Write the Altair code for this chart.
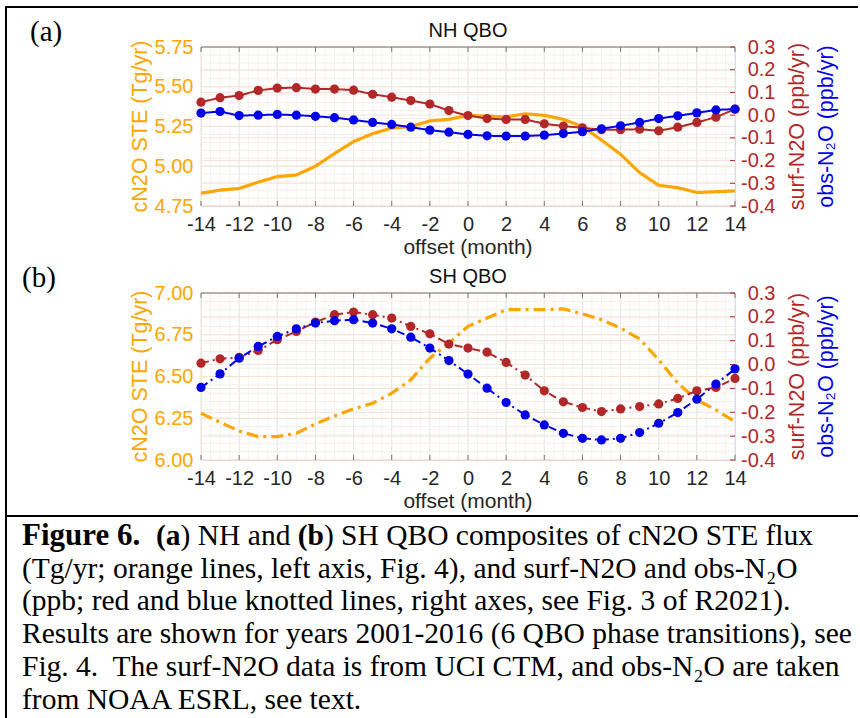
import altair as alt
import pandas as pd

# Composite offsets (months) relative to the QBO phase transition
months = list(range(-14, 15))

# (a) NH QBO composites
nh_cn2o = [4.83, 4.85, 4.86, 4.90, 4.935, 4.945, 5.00, 5.08, 5.155, 5.205, 5.24, 5.25, 5.285, 5.295,
           5.32, 5.315, 5.31, 5.33, 5.32, 5.295, 5.25, 5.165, 5.075, 4.96, 4.88, 4.865, 4.835, 4.84, 4.845]
nh_surf = [0.057, 0.077, 0.086, 0.109, 0.119, 0.121, 0.115, 0.115, 0.110, 0.092, 0.079, 0.064, 0.049, 0.020,
           -0.002, -0.015, -0.019, -0.019, -0.038, -0.048, -0.056, -0.064, -0.064, -0.062, -0.069, -0.053,
           -0.032, -0.009, 0.026]
nh_obs = [0.009, 0.016, -0.002, 0.000, 0.003, 0.000, -0.005, -0.011, -0.021, -0.032, -0.041, -0.053, -0.066,
          -0.075, -0.085, -0.091, -0.092, -0.092, -0.088, -0.081, -0.073, -0.060, -0.047, -0.032, -0.015,
          -0.003, 0.010, 0.023, 0.027]

# (b) SH QBO composites
sh_cn2o = [6.28, 6.226, 6.174, 6.14, 6.14, 6.16, 6.216, 6.264, 6.306, 6.34, 6.40, 6.48, 6.61, 6.70,
           6.80, 6.85, 6.90, 6.90, 6.90, 6.905, 6.875, 6.84, 6.79, 6.725, 6.60, 6.46, 6.36, 6.30, 6.23]
sh_surf = [0.006, 0.024, 0.030, 0.059, 0.104, 0.139, 0.178, 0.209, 0.220, 0.209, 0.195, 0.160, 0.129, 0.086,
           0.069, 0.052, 0.009, -0.044, -0.110, -0.156, -0.180, -0.197, -0.186, -0.176, -0.165, -0.142,
           -0.110, -0.096, -0.058]
sh_obs = [-0.096, -0.039, 0.027, 0.076, 0.118, 0.150, 0.174, 0.184, 0.188, 0.174, 0.150, 0.115, 0.069,
          0.017, -0.040, -0.099, -0.159, -0.211, -0.253, -0.288, -0.309, -0.316, -0.309, -0.285, -0.246,
          -0.201, -0.145, -0.082, -0.018]

# Axis tick values
x_ticks = list(range(-14, 15, 2))
nh_left_ticks = [4.75, 5.0, 5.25, 5.5, 5.75]
sh_left_ticks = [6.0, 6.25, 6.5, 6.75, 7.0]
right_ticks = [-0.4, -0.3, -0.2, -0.1, 0.0, 0.1, 0.2, 0.3]

# Caption: first line mixes bold and regular runs (text, weight, left x)
caption_first = [
    ("Figure 6.", "bold", 22),
    ("(a", "bold", 156),
    (") NH and", "normal", 180.6),
    ("(b", "bold", 297.7),
    (") SH QBO composites of cN2O STE flux", "normal", 323.9),
]
caption_lines = [
    "(Tg/yr; orange lines, left axis, Fig. 4), and surf-N2O and obs-N\u2082O",
    "(ppb; red and blue knotted lines, right axes, see Fig. 3 of R2021).",
    "Results are shown for years 2001-2016 (6 QBO phase transitions), see",
    "Fig. 4.\u00a0 The surf-N2O data is from UCI CTM, and obs-N\u2082O are taken",
    "from NOAA ESRL, see text.",
]

W, H = 860, 718
PX0, PX1 = 201, 735

ORANGE = "#FFA500"
RED = "#B22828"
BLUE = "#0000E6"
GRID_MAJOR = "#e6e6e6"
GRID_MINOR = "#f3f3f3"
TEXT = "#262626"
SANS = "Liberation Sans"
SERIF = "Liberation Serif"

one = pd.DataFrame({"k": [0]})


def xs():
    return alt.Scale(domain=[-14, 14], range=[PX0, PX1], nice=False, zero=False)


def ys(dom, top, bot):
    return alt.Scale(domain=dom, range=[bot, top], nice=False, zero=False)


def hyphen(fmt):
    return "replace(format(datum.value, '%s'), '\u2212', '-')" % fmt


def label(s, x, y, size, color="#000000", font=SANS, weight="normal", angle=0,
          align="center", baseline="middle"):
    kw = dict(text=s, fontSize=size, font=font, fontWeight=weight, color=color,
              align=align, baseline=baseline)
    if angle:
        kw["angle"] = angle
    return alt.Chart(one).mark_text(**kw).encode(x=alt.value(x), y=alt.value(y))


def hline(x0, x1, y, color="#000000", width=2):
    return alt.Chart(one).mark_rule(color=color, strokeWidth=width).encode(
        x=alt.value(x0), x2=alt.value(x1), y=alt.value(y))


def vline(x, y0, y1, color="#000000", width=2):
    return alt.Chart(one).mark_rule(color=color, strokeWidth=width).encode(
        x=alt.value(x), y=alt.value(y0), y2=alt.value(y1))


def panel(cn2o, surf, obs, left_dom, left_ticks, top, bot, title, tag, tag_x, dashed):
    df = pd.DataFrame({"month": months, "cn2o": cn2o, "surf": surf, "obs": obs})
    yl = lambda: ys(left_dom, top, bot)
    yr = lambda: ys([-0.4, 0.3], top, bot)
    mid = (top + bot) / 2
    out = []

    # background grid
    minor_x = pd.DataFrame({"v": [m / 2 for m in range(-28, 29)]})
    major_x = pd.DataFrame({"v": x_ticks})
    lo, hi = left_dom
    minor_l = pd.DataFrame({"v": [lo + i * 0.05 for i in range(21)]})
    major_l = pd.DataFrame({"v": left_ticks})
    major_r = pd.DataFrame({"v": right_ticks})
    for d, c in [(minor_x, GRID_MINOR), (major_x, GRID_MAJOR)]:
        out.append(alt.Chart(d).mark_rule(color=c, strokeWidth=1).encode(
            x=alt.X("v:Q", scale=xs(), axis=None), y=alt.value(top), y2=alt.value(bot)))
    for d, c in [(minor_l, "#f7efe4"), (major_l, "#f5e4cc")]:
        out.append(alt.Chart(d).mark_rule(color=c, strokeWidth=1).encode(
            y=alt.Y("v:Q", scale=yl(), axis=None), x=alt.value(PX0), x2=alt.value(PX1)))
    out.append(alt.Chart(major_r).mark_rule(color="#f3e2e2", strokeWidth=1).encode(
        y=alt.Y("v:Q", scale=yr(), axis=None), x=alt.value(PX0), x2=alt.value(PX1)))

    # frame top edge and inward ticks
    out.append(hline(PX0, PX1, top, color="#777777", width=1))
    out.append(alt.Chart(major_x).mark_rule(color="#777777", strokeWidth=1).encode(
        x=alt.X("v:Q", scale=xs(), axis=None), y=alt.value(bot), y2=alt.value(bot - 5)))
    out.append(alt.Chart(major_x).mark_rule(color="#777777", strokeWidth=1).encode(
        x=alt.X("v:Q", scale=xs(), axis=None), y=alt.value(top), y2=alt.value(top + 5)))
    out.append(alt.Chart(major_r).mark_rule(color=RED, strokeWidth=1).encode(
        y=alt.Y("v:Q", scale=yr(), axis=None), x=alt.value(PX1 - 5), x2=alt.value(PX1)))

    x_axis = alt.Axis(orient="bottom", offset=bot - H, values=x_ticks, title=None, grid=False,
                      ticks=False, domainColor="#808080", domainWidth=1, labelFont=SANS,
                      labelFontSize=20, labelColor=TEXT, labelPadding=8, labelFlush=False,
                      labelExpr=hyphen("d"))
    left_axis = alt.Axis(orient="left", offset=-PX0, values=left_ticks, title=None, grid=False,
                         ticks=False, domainColor="#FFD89A", domainWidth=1, labelFont=SANS,
                         labelFontSize=20, labelColor=ORANGE, labelPadding=8,
                         labelExpr=hyphen(".2f"))
    right_axis = alt.Axis(orient="right", offset=PX1 - W, values=right_ticks, title=None,
                          grid=False, ticks=False, domainColor="#A8A8F5", domainWidth=1,
                          labelFont=SANS, labelFontSize=20, labelColor=RED, labelAlign="right",
                          labelPadding=40, labelExpr=hyphen(".1f"))

    dash = [12, 5, 3, 5] if dashed else [1, 0]
    sdash = [8, 4, 2, 4] if dashed else [1, 0]

    out.append(alt.Chart(df).mark_line(color=ORANGE, strokeWidth=3.2, strokeDash=dash).encode(
        x=alt.X("month:Q", scale=xs(), axis=x_axis),
        y=alt.Y("cn2o:Q", scale=yl(), axis=left_axis)))
    out.append(alt.Chart(df).mark_line(
        color=RED, strokeWidth=2, strokeDash=sdash,
        point=alt.OverlayMarkDef(filled=True, size=85, color=RED, opacity=1)).encode(
        x=alt.X("month:Q", scale=xs(), axis=None),
        y=alt.Y("surf:Q", scale=yr(), axis=right_axis)))
    out.append(alt.Chart(df).mark_line(
        color=BLUE, strokeWidth=2, strokeDash=sdash,
        point=alt.OverlayMarkDef(filled=True, size=85, color=BLUE, opacity=1)).encode(
        x=alt.X("month:Q", scale=xs(), axis=None),
        y=alt.Y("obs:Q", scale=yr(), axis=None)))

    # titles
    out.append(label(title, 468, top - 16, 20, color="#111111"))
    out.append(label("offset (month)", 468, bot + 42, 21, color=TEXT))
    out.append(label("cN2O STE (Tg/yr)", 141, mid, 21.5, color=ORANGE, angle=270))
    out.append(label("surf-N2O (ppb/yr)", 798, mid, 21.5, color=RED, angle=270))
    out.append(label("obs-N\u2082O (ppb/yr)", 827, mid, 21.5, color=BLUE, angle=270))
    out.append(label(tag, tag_x, top - 15, 29, font=SERIF, align="left"))
    return out


layers = []
layers += panel(nh_cn2o, nh_surf, nh_obs, [4.75, 5.75], nh_left_ticks, 47, 206,
                "NH QBO", "(a)", 30, dashed=False)
layers += panel(sh_cn2o, sh_surf, sh_obs, [6.0, 7.0], sh_left_ticks, 293, 460,
                "SH QBO", "(b)", 22, dashed=True)

# figure frame
layers.append(vline(6, 6, H))
layers.append(hline(5, 858, 7))
layers.append(hline(5, 858, 516))

# caption
CAP = 29.5
base = 545
step = 32.7
for s, w, x in caption_first:
    size = 31 if s.startswith("Figure") else CAP
    layers.append(label(s, x, base, size, font=SERIF, weight=w, align="left", baseline="alphabetic"))
for i, line in enumerate(caption_lines):
    layers.append(label(line, 22, base + step * (i + 1), CAP, font=SERIF, align="left",
                        baseline="alphabetic"))

chart = alt.layer(*layers).resolve_scale(x="independent", y="independent").properties(
    width=W, height=H, padding=0, background="white",
    autosize=alt.AutoSizeParams(type="none"),
).configure_view(stroke=None)

chart.save("out.html", embed_options={"renderer": "svg", "actions": False})
